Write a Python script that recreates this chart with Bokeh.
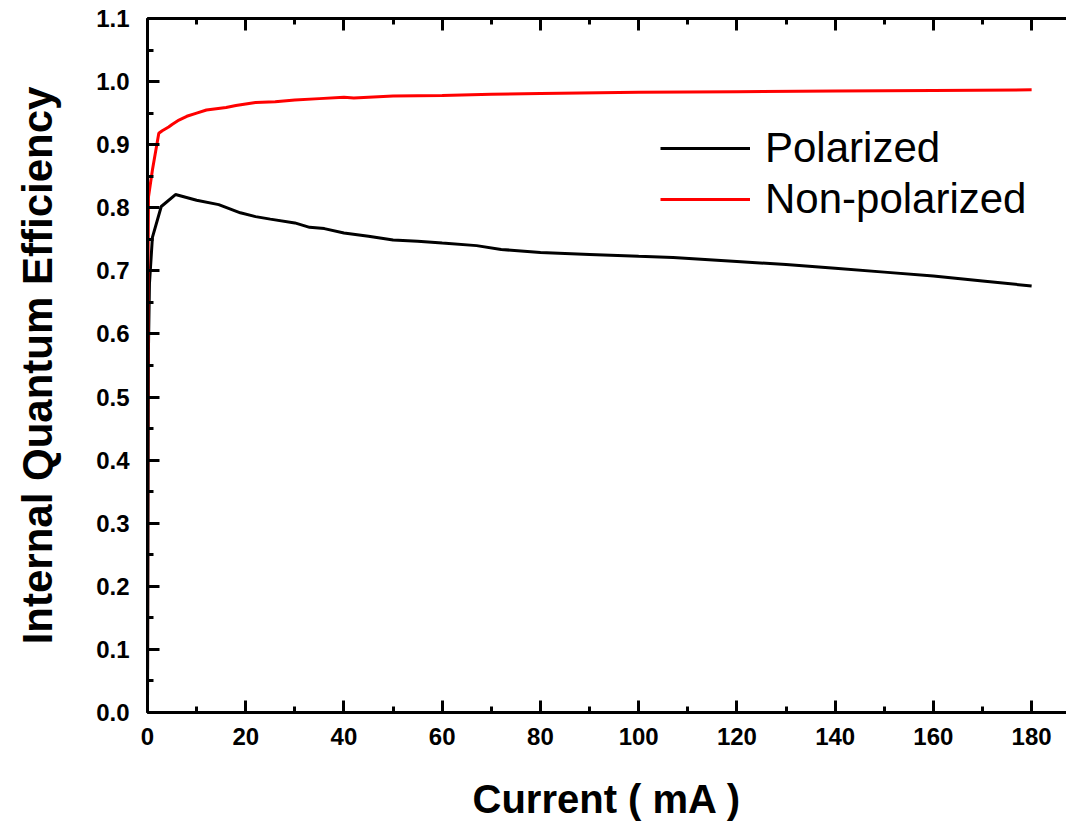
from bokeh.plotting import figure
from bokeh.models import (Range1d, LinearAxis, SingleIntervalTicker,
                          PrintfTickFormatter, Legend, LegendItem)
from bokeh.embed import file_html
from bokeh.resources import INLINE

# ---- data ----
pol_x = [0, 0.1, 0.2, 0.4, 1.0, 2.8, 5.7, 10, 14.5, 18.9, 22, 25, 30, 33, 36, 40, 45,
         50, 55, 60, 67, 72, 80, 90, 100, 107, 120, 130, 140, 150, 160, 170, 180]
pol_y = [0.0, 0.30, 0.58, 0.68, 0.753, 0.802, 0.821, 0.812, 0.805, 0.792, 0.786, 0.782,
         0.776, 0.769, 0.767, 0.760, 0.755, 0.749, 0.747, 0.744, 0.740, 0.734, 0.729,
         0.726, 0.723, 0.721, 0.715, 0.710, 0.704, 0.698, 0.692, 0.684, 0.676]

non_x = [0, 0.05, 0.1, 0.2, 1.0, 2.3, 3.0, 4.3, 5.0, 6.4, 8, 10, 12, 16, 18, 22, 26, 30,
         35, 40, 42, 50, 60, 70, 80, 100, 120, 140, 160, 180]
non_y = [0.0, 0.40, 0.70, 0.817, 0.86, 0.918, 0.922, 0.928, 0.932, 0.939, 0.945, 0.950,
         0.955, 0.959, 0.962, 0.967, 0.968, 0.971, 0.973, 0.975, 0.974, 0.977, 0.978,
         0.980, 0.981, 0.983, 0.984, 0.985, 0.986, 0.987]

series_names = ["Polarized", "Non-polarized"]
x_label = "Current ( mA )"
y_label = "Internal Quantum Efficiency"

FONT = "Liberation Sans"

p = figure(width=1066, height=823, output_backend="svg", toolbar_location=None,
           x_range=Range1d(0, 187.1), y_range=Range1d(0, 1.1),
           min_border_left=147, min_border_right=0, min_border_top=18,
           min_border_bottom=111, background_fill_color="white",
           border_fill_color="white", outline_line_color=None)
p.grid.visible = False

r1 = p.line(pol_x, pol_y, line_color="black", line_width=3)
r2 = p.line(non_x, non_y, line_color="#ff0000", line_width=3)


def style_axis(ax):
    ax.axis_line_width = 3
    ax.axis_line_color = "black"
    ax.major_tick_line_width = 3
    ax.minor_tick_line_width = 3
    ax.major_tick_line_color = "black"
    ax.minor_tick_line_color = "black"
    ax.major_tick_in = 12
    ax.major_tick_out = 0
    ax.minor_tick_in = 6
    ax.minor_tick_out = 0
    ax.major_label_text_font = FONT
    ax.major_label_text_font_style = "bold"
    ax.major_label_text_font_size = "24px"
    ax.major_label_text_color = "black"
    ax.axis_label_text_font = FONT
    ax.axis_label_text_font_style = "bold"
    ax.axis_label_text_color = "black"


style_axis(p.xaxis[0])
style_axis(p.yaxis[0])

p.xaxis[0].ticker = SingleIntervalTicker(interval=20, num_minor_ticks=2)
p.xaxis[0].major_label_standoff = 15
p.xaxis[0].axis_label = x_label
p.xaxis[0].axis_label_text_font_size = "40px"
p.xaxis[0].axis_label_standoff = 29

p.yaxis[0].ticker = SingleIntervalTicker(interval=0.1, num_minor_ticks=2)
p.yaxis[0].formatter = PrintfTickFormatter(format="%.1f")
p.yaxis[0].axis_label = y_label
p.yaxis[0].axis_label_text_font_size = "42px"
p.yaxis[0].major_label_standoff = 18
p.yaxis[0].axis_label_standoff = 32

# mirrored top axis: line and ticks only
top = LinearAxis(ticker=SingleIntervalTicker(interval=20, num_minor_ticks=2))
style_axis(top)
top.major_label_text_font_size = "1px"
top.major_label_text_color = None
top.major_label_text_alpha = 0
top.major_label_standoff = 0
p.add_layout(top, "above")

legend = Legend(items=[LegendItem(label=series_names[0], renderers=[r1]),
                       LegendItem(label=series_names[1], renderers=[r2])],
                location=(513, 489), padding=0, margin=0, spacing=3,
                glyph_width=90, glyph_height=48, label_standoff=15,
                label_text_font=FONT, label_text_font_size="42px",
                label_text_color="black", border_line_color=None,
                background_fill_alpha=0)
p.add_layout(legend, "center")

open("out.html", "w").write(file_html(p, INLINE))
